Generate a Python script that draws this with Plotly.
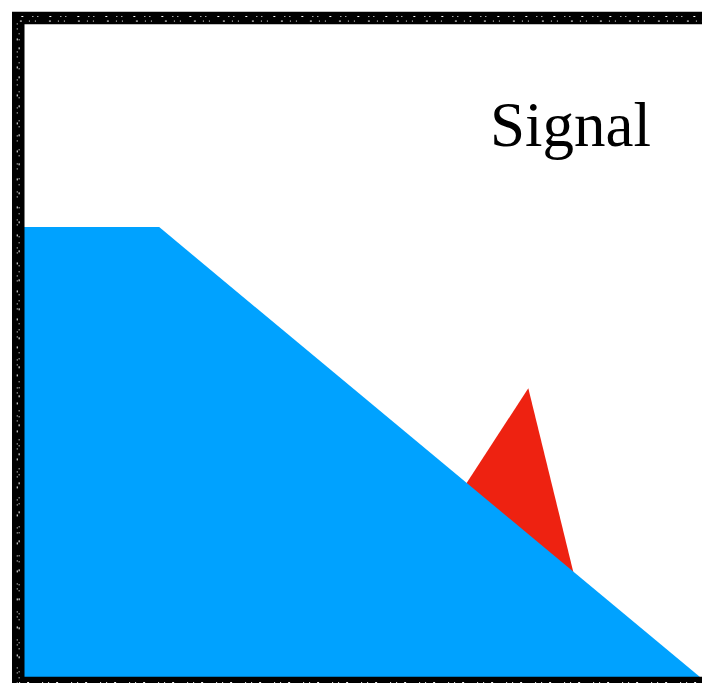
import plotly.graph_objects as go

# Data (axis units 0..100)
blue_x = [0, 20, 100, 100, 0]
blue_y = [69, 69, 0, 0, 0]

red_x = [63.7, 74.6, 81.9]
red_y = [26.9, 44.3, 13.4]

title_text = "Signal"

fig = go.Figure()
fig.add_trace(go.Scatter(x=red_x, y=red_y, fill="toself", mode="lines",
                         line=dict(width=0, color="#EE2211"), fillcolor="#EE2211",
                         hoverinfo="skip", showlegend=False))
fig.add_trace(go.Scatter(x=blue_x, y=blue_y, fill="toself", mode="lines",
                         line=dict(width=0, color="#00A2FF"), fillcolor="#00A2FF",
                         hoverinfo="skip", showlegend=False))

fig.add_annotation(text=title_text, xref="paper", yref="paper", x=0.808, y=0.846,
                   showarrow=False, xanchor="center", yanchor="middle",
                   font=dict(family="Liberation Serif", size=63, color="black"))

# rough frame
fig.add_shape(type="rect", xref="paper", yref="paper",
              x0=-0.0085, x1=1.013, y0=-0.0092, y1=1.0107,
              line=dict(color="black", width=12.5), layer="above")
fig.add_shape(type="rect", xref="paper", yref="paper",
              x0=-0.0072, x1=1.013, y0=-0.0085, y1=1.006,
              line=dict(color="white", width=1, dash="1px,7px,2px,13px,1px,5px"), layer="above")
fig.add_shape(type="rect", xref="paper", yref="paper",
              x0=-0.0100, x1=1.013, y0=-0.0100, y1=1.013,
              line=dict(color="white", width=1, dash="2px,11px,1px,4px,1px,9px"), layer="above")

fig.update_xaxes(range=[0, 100], visible=False, showgrid=False, zeroline=False)
fig.update_yaxes(range=[0, 100], visible=False, showgrid=False, zeroline=False)
fig.update_layout(width=702, height=683, margin=dict(l=24, r=2, t=25, b=6),
                  paper_bgcolor="white", plot_bgcolor="white")

fig.write_html("out.html", config={"displayModeBar": False},
               post_script="document.body.style.margin='0';document.body.style.overflow='hidden';")
